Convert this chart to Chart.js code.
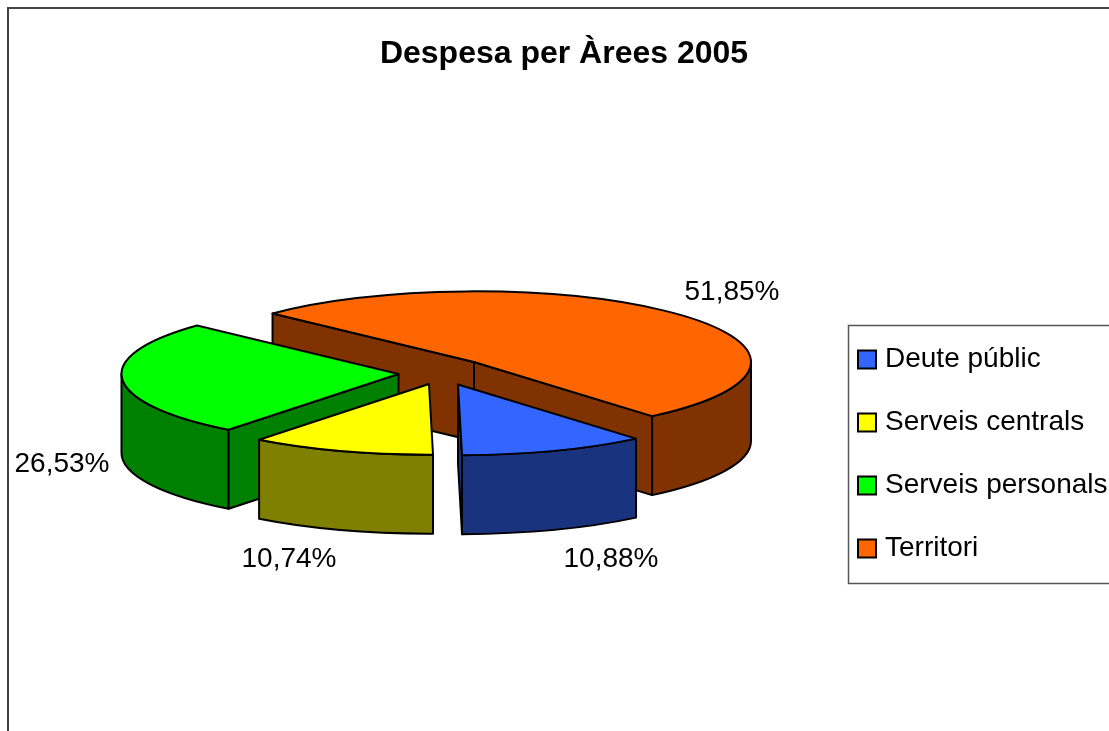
<!DOCTYPE html>
<html>
<head>
<meta charset="utf-8">
<style>html,body{margin:0;padding:0;background:#fff;overflow:hidden}canvas{display:block}</style>
<script src="https://cdn.jsdelivr.net/npm/chart.js@4/dist/chart.umd.min.js"></script>
</head>
<body>
<canvas id="c" width="1109" height="731"></canvas>
<script>
const titleText = 'Despesa per Àrees 2005';
const categories = ['Deute públic', 'Serveis centrals', 'Serveis personals', 'Territori'];
const shares = [10.88, 10.74, 26.53, 51.85];
const topColors = ['#3366FF', '#FFFF00', '#00FF00', '#FF6600'];
const sideColors = ['#1A337F', '#808000', '#008000', '#803300'];

// Layout constants of the 3D look (not data)
const FLAT = 0.255, DEPTH = 79, FONT = 'Liberation Sans';
const shift = [[-16, 22.5], [-45, 22], [-75.5, 12], [0, 0]];
const labelAt = [[611, 559], [289, 559], [62, 464], [732, 292]];
const drawOrder = [3, 2, 1, 0];

const pie3d = {
  id: 'pie3d',
  afterLayout(chart) {
    chart.chartArea = {left: 197, right: 751, top: 85, bottom: 639, width: 554, height: 554};
    const l = chart.legend;
    l.left = 828; l.right = 1300; l.top = 310.5; l.bottom = 731;
    const t = chart.titleBlock;
    t.left = 19; t.right = 1109; t.top = 35; t.bottom = 74;
  },
  beforeDatasetDraw(chart) {
    const ctx = chart.ctx;
    // frame
    ctx.save();
    ctx.strokeStyle = '#444'; ctx.lineWidth = 2;
    ctx.beginPath(); ctx.moveTo(8, 731); ctx.lineTo(8, 8); ctx.lineTo(1109, 8); ctx.stroke();
    ctx.restore();

    const arcs = chart.getDatasetMeta(0).data;
    ctx.save();
    ctx.lineWidth = 2; ctx.strokeStyle = '#000'; ctx.lineJoin = 'round';
    drawOrder.forEach(i => {
      const el = arcs[i], rx = el.outerRadius, ry = rx * FLAT;
      const cx = el.x + shift[i][0], cy = el.y + shift[i][1];
      const a0 = el.startAngle, a1 = el.endAngle;
      const px = t => cx + rx * Math.cos(t), py = t => cy + ry * Math.sin(t);
      ctx.fillStyle = sideColors[i];
      // curved wall: the part of the rim facing the viewer
      for (let k = -1; k <= 2; k++) {
        const s = Math.max(a0, 2 * Math.PI * k), e = Math.min(a1, 2 * Math.PI * k + Math.PI);
        if (e <= s) continue;
        ctx.beginPath();
        ctx.ellipse(cx, cy, rx, ry, 0, s, e);
        ctx.lineTo(px(e), py(e) + DEPTH);
        ctx.ellipse(cx, cy + DEPTH, rx, ry, 0, e, s, true);
        ctx.closePath(); ctx.fill(); ctx.stroke();
      }
      // radial cut faces facing the viewer
      [[a0, Math.cos(a0) < 0], [a1, Math.cos(a1) > 0]].forEach(([t, visible]) => {
        if (!visible) return;
        ctx.beginPath();
        ctx.moveTo(cx, cy); ctx.lineTo(px(t), py(t));
        ctx.lineTo(px(t), py(t) + DEPTH); ctx.lineTo(cx, cy + DEPTH);
        ctx.closePath(); ctx.fill(); ctx.stroke();
      });
      // top face
      ctx.fillStyle = topColors[i];
      ctx.beginPath();
      ctx.moveTo(cx, cy);
      ctx.ellipse(cx, cy, rx, ry, 0, a0, a1);
      ctx.closePath(); ctx.fill(); ctx.stroke();
    });
    // value labels
    ctx.fillStyle = '#000';
    ctx.font = '28px "' + FONT + '"';
    ctx.textAlign = 'center'; ctx.textBaseline = 'middle';
    shares.forEach((v, i) => {
      ctx.fillText(v.toFixed(2).replace('.', ',') + '%', labelAt[i][0], labelAt[i][1]);
    });
    ctx.restore();
    return false;
  },
  afterDraw(chart) {
    const ctx = chart.ctx;
    ctx.save();
    ctx.strokeStyle = '#555'; ctx.lineWidth = 1.5;
    ctx.strokeRect(848.5, 325.5, 400, 258);
    ctx.restore();
  }
};

new Chart(document.getElementById('c'), {
  type: 'pie',
  plugins: [pie3d],
  data: {
    labels: categories,
    datasets: [{
      data: shares,
      backgroundColor: topColors,
      borderColor: '#000',
      borderWidth: 2
    }]
  },
  options: {
    responsive: false,
    animation: false,
    rotation: 140,
    radius: 277,
    layout: {padding: 0},
    plugins: {
      tooltip: {enabled: false},
      title: {
        display: true, text: titleText, color: '#000', padding: 0,
        font: {family: FONT, size: 32, weight: 'bold'}
      },
      legend: {
        display: true, position: 'right', align: 'start',
        labels: {
          color: '#000', usePointStyle: true, pointStyle: 'rect',
          boxWidth: 8, boxHeight: 18, padding: 35,
          font: {family: FONT, size: 28}
        }
      }
    }
  }
});
</script>
</body>
</html>
